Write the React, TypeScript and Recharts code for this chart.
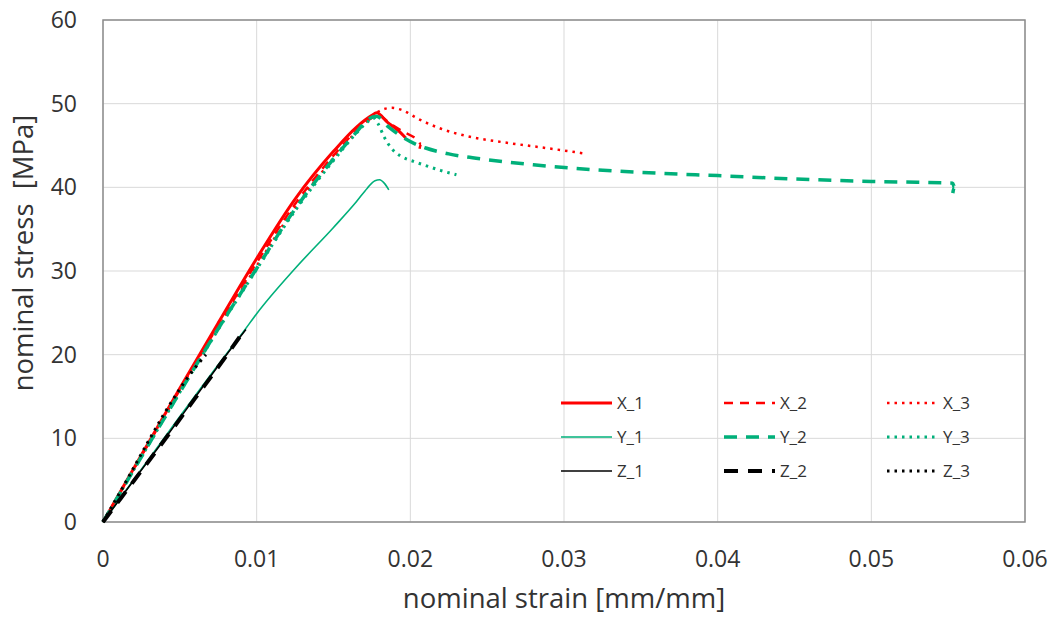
import React from "react";
import { LineChart, Line, XAxis, YAxis, CartesianGrid, ReferenceArea, Label } from "recharts";

// strain [mm/mm] / stress [MPa]
const x1Strain = [0, 0.0025, 0.005, 0.0075, 0.01, 0.0125, 0.015, 0.0165, 0.0175, 0.0178, 0.0185, 0.0192, 0.0197];
const x1Stress = [0, 8.0, 16.0, 23.8, 31.5, 38.6, 44.3, 47.2, 48.6, 48.9, 47.8, 46.8, 45.9];

const x2Strain = [0, 0.0025, 0.005, 0.0075, 0.01, 0.0125, 0.015, 0.0165, 0.0175, 0.0179, 0.0187, 0.0196, 0.0203, 0.0207, 0.0206];
const x2Stress = [0, 7.9, 15.8, 23.5, 31.0, 38.0, 43.8, 46.8, 48.3, 48.6, 47.6, 46.6, 45.9, 45.2, 44.6];

const x3Strain = [0, 0.0025, 0.005, 0.0075, 0.01, 0.0125, 0.015, 0.0165, 0.0175, 0.0182, 0.0188, 0.0195, 0.0205, 0.022, 0.024, 0.026, 0.028, 0.03, 0.0315];
const x3Stress = [0, 7.8, 15.6, 23.2, 30.6, 37.6, 43.5, 46.7, 48.5, 49.3, 49.5, 49.2, 48.2, 47.0, 46.0, 45.4, 44.9, 44.4, 44.0];

const y1Strain = [0, 0.0025, 0.005, 0.0075, 0.0092, 0.01, 0.0125, 0.015, 0.0165, 0.0172, 0.0177, 0.018, 0.0183, 0.0186];
const y1Stress = [0, 6.3, 12.6, 18.8, 22.9, 24.9, 30.3, 35.2, 38.3, 39.9, 40.8, 40.9, 40.5, 39.7];

const y2Strain = [0, 0.0025, 0.005, 0.0075, 0.01, 0.0125, 0.015, 0.0165, 0.0173, 0.0178, 0.0186, 0.0195, 0.0203, 0.021, 0.0225, 0.025, 0.028, 0.032, 0.036, 0.04, 0.045, 0.05, 0.053, 0.0553, 0.0554, 0.0553];
const y2Stress = [0, 7.8, 15.5, 23.1, 30.3, 37.4, 43.4, 46.6, 48.2, 48.5, 47.2, 46.0, 45.2, 44.7, 44.0, 43.3, 42.7, 42.1, 41.7, 41.4, 41.0, 40.7, 40.6, 40.5, 40.0, 39.3];

const y3Strain = [0, 0.0025, 0.005, 0.0075, 0.01, 0.0125, 0.015, 0.0165, 0.0172, 0.0176, 0.0179, 0.0183, 0.0188, 0.0194, 0.0202, 0.021, 0.022, 0.023];
const y3Stress = [0, 7.8, 15.5, 23.0, 30.2, 37.2, 43.2, 46.5, 47.8, 48.3, 47.6, 46.0, 44.6, 43.7, 43.1, 42.6, 42.0, 41.5];

const z1Strain = [0, 0.002, 0.004, 0.006, 0.008, 0.0093];
const z1Stress = [0, 5.0, 9.9, 14.9, 19.9, 23.0];

const z2Strain = [0, 0.002, 0.004, 0.006, 0.008, 0.009];
const z2Stress = [0, 4.9, 9.8, 14.8, 19.8, 22.4];

const z3Strain = [0, 0.001, 0.002, 0.003, 0.004, 0.005, 0.0056, 0.0067];
const z3Stress = [0, 3.2, 6.5, 9.8, 13.0, 15.9, 17.5, 20.0];

const xTicks = [0, 0.01, 0.02, 0.03, 0.04, 0.05, 0.06];
const yTicks = [0, 10, 20, 30, 40, 50, 60];

const RED = "#ff0000";
const GREEN = "#00b07a";
const BLACK = "#000000";
const TEXT = "#333333";
const FONT = "'Open Sans', sans-serif";

const toPoints = (xs: number[], ys: number[]) => xs.map((x, i) => ({ x, y: ys[i] }));

const series = [
  { name: "X_1", data: toPoints(x1Strain, x1Stress), color: RED, width: 3, dash: undefined },
  { name: "X_2", data: toPoints(x2Strain, x2Stress), color: RED, width: 2.5, dash: "9 7" },
  { name: "X_3", data: toPoints(x3Strain, x3Stress), color: RED, width: 2.5, dash: "2.5 5" },
  { name: "Y_1", data: toPoints(y1Strain, y1Stress), color: GREEN, width: 1.6, dash: undefined },
  { name: "Y_2", data: toPoints(y2Strain, y2Stress), color: GREEN, width: 3.5, dash: "13 9" },
  { name: "Y_3", data: toPoints(y3Strain, y3Stress), color: GREEN, width: 3, dash: "2.5 5" },
  { name: "Z_1", data: toPoints(z1Strain, z1Stress), color: BLACK, width: 1.6, dash: undefined },
  { name: "Z_2", data: toPoints(z2Strain, z2Stress), color: BLACK, width: 4, dash: "14 10" },
  { name: "Z_3", data: toPoints(z3Strain, z3Stress), color: BLACK, width: 3, dash: "2.5 5" },
];

function LegendGrid() {
  return (
    <svg width={480} height={100} style={{ display: "block" }}>
      {series.map((s, i) => {
        const col = i % 3;
        const row = Math.floor(i / 3);
        const x = col * 163 + 6;
        const y = row * 34 + 13;
        return (
          <g key={s.name}>
            <line x1={x} y1={y} x2={x + 51} y2={y} stroke={s.color} strokeWidth={s.width} strokeDasharray={s.dash} />
            <text x={x + 56} y={y + 6} fontSize={17} fill={TEXT} fontFamily={FONT}>{s.name}</text>
          </g>
        );
      })}
    </svg>
  );
}

export default function App() {
  return (
    <div style={{ position: "absolute", left: 0, top: 0, width: 1053, height: 617, background: "#fff" }}>
      <LineChart width={1053} height={617} margin={{ top: 20, right: 28, left: 0, bottom: 0 }}>
        <CartesianGrid stroke="#d9d9d9" strokeWidth={1} />
        <XAxis
          type="number"
          dataKey="x"
          domain={[0, 0.06]}
          ticks={xTicks}
          tickFormatter={(v: number) => String(v)}
          height={95}
          axisLine={false}
          tickLine={false}
          tickSize={0}
          tickMargin={29}
          tick={{ fontSize: 23, fill: TEXT, fontFamily: FONT }}
        >
          <Label
            content={() => (
              <text x={564} y={608} textAnchor="middle" fontSize={27.5} fill={TEXT} fontFamily={FONT}>
                nominal strain [mm/mm]
              </text>
            )}
          />
        </XAxis>
        <YAxis
          type="number"
          dataKey="y"
          domain={[0, 60]}
          ticks={yTicks}
          width={103}
          axisLine={false}
          tickLine={false}
          tickSize={0}
          tickMargin={26}
          tick={{ fontSize: 23, fill: TEXT, fontFamily: FONT }}
        >
          <Label
            content={() => (
              <text transform="translate(33,253) rotate(-90)" textAnchor="middle" fontSize={27.5} fill={TEXT} fontFamily={FONT} style={{ whiteSpace: "pre" }}>
                nominal stress  [MPa]
              </text>
            )}
          />
        </YAxis>
        <ReferenceArea x1={0} x2={0.06} y1={0} y2={60} fill="none" stroke="#8c8c8c" strokeWidth={1.5} ifOverflow="visible" />
        {series.map((s) => (
          <Line
            key={s.name}
            data={s.data}
            dataKey="y"
            name={s.name}
            type="monotone"
            stroke={s.color}
            strokeWidth={s.width}
            strokeDasharray={s.dash}
            dot={false}
            isAnimationActive={false}
          />
        ))}
      </LineChart>
      <div style={{ position: "absolute", left: 555, top: 390 }}>
        <LegendGrid />
      </div>
    </div>
  );
}
